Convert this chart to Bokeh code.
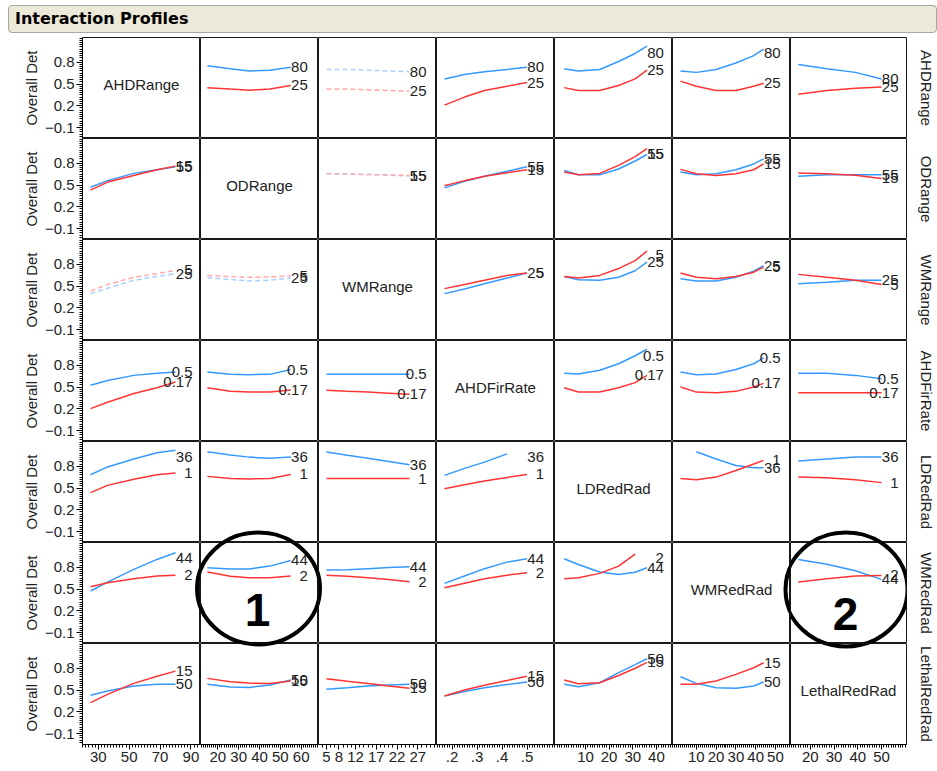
import math
from bokeh.plotting import figure
from bokeh.models import Range1d, FixedTicker, LinearAxis, Div
from bokeh.layouts import gridplot, column
from bokeh.embed import file_html
from bokeh.resources import INLINE
from bokeh.core.properties import value

NaN = float("nan")

factors = ["AHDRange", "ODRange", "WMRange", "AHDFirRate", "LDRedRad", "WMRedRad", "LethalRedRad"]
hi_levels = ["80", "55", "25", "0.5", "36", "44", "50"]
lo_levels = ["25", "15", "5", "0.17", "1", "2", "15"]

# factor values at which the profiles were read
x_AHDRange = [25, 36, 53, 68, 80]
x_ODRange = [15, 26, 35, 45, 55]
x_WMRange = [5, 10, 15, 20, 25]
x_AHDFirRate = [0.17, 0.25, 0.33, 0.42, 0.5]
x_LDRedRad = [1, 7, 16, 24, 31, 36]
x_WMRedRad = [2, 10, 20, 30, 39, 44]
x_LethalRedRad = [15, 27, 39, 50]

# bottom axis ticks
ticks_AHDRange = [30, 50, 70, 90]
ticks_ODRange = [20, 30, 40, 50, 60]
ticks_WMRange = [5, 8, 12, 17, 22, 27]
ticks_AHDFirRate = [0.2, 0.3, 0.4, 0.5]
labels_AHDFirRate = [".2", ".3", ".4", ".5"]
ticks_LDRedRad = [10, 20, 30, 40]
ticks_WMRedRad = [10, 20, 30, 40, 50]
ticks_LethalRedRad = [20, 30, 40, 50]
y_ticks = [-0.1, 0.2, 0.5, 0.8]

# Overall Det profiles: row factor at its high level (blue) and low level (red)
hi_AHDRange = {
    "ODRange": [0.75, 0.71, 0.68, 0.69, 0.73],
    "WMRange": [0.70, 0.70, 0.69, 0.68, 0.67],
    "AHDFirRate": [0.57, 0.63, 0.67, 0.70, 0.73],
    "LDRedRad": [0.71, 0.68, 0.70, 0.81, 0.92, 1.02],
    "WMRedRad": [0.68, 0.66, 0.70, 0.79, 0.89, 0.98],
    "LethalRedRad": [0.77, 0.71, 0.66, 0.57],
}
lo_AHDRange = {
    "ODRange": [0.45, 0.43, 0.415, 0.43, 0.48],
    "WMRange": [0.43, 0.43, 0.42, 0.41, 0.40],
    "AHDFirRate": [0.21, 0.32, 0.41, 0.47, 0.52],
    "LDRedRad": [0.45, 0.41, 0.41, 0.48, 0.57, 0.69],
    "WMRedRad": [0.54, 0.47, 0.41, 0.41, 0.47, 0.51],
    "LethalRedRad": [0.36, 0.41, 0.44, 0.46],
}
hi_ODRange = {
    "AHDRange": [0.47, 0.56, 0.66, 0.71, 0.75],
    "WMRange": [0.66, 0.65, 0.645, 0.635, 0.625],
    "AHDFirRate": [0.46, 0.55, 0.62, 0.69, 0.75],
    "LDRedRad": [0.70, 0.64, 0.64, 0.72, 0.83, 0.92],
    "WMRedRad": [0.68, 0.64, 0.656, 0.71, 0.79, 0.86],
    "LethalRedRad": [0.62, 0.64, 0.64, 0.64],
}
lo_ODRange = {
    "AHDRange": [0.43, 0.54, 0.63, 0.71, 0.76],
    "WMRange": [0.655, 0.65, 0.645, 0.64, 0.63],
    "AHDFirRate": [0.49, 0.56, 0.62, 0.67, 0.71],
    "LDRedRad": [0.68, 0.64, 0.66, 0.77, 0.89, 1.0],
    "WMRedRad": [0.715, 0.656, 0.63, 0.656, 0.71, 0.79],
    "LethalRedRad": [0.664, 0.656, 0.635, 0.59],
}
hi_WMRange = {
    "AHDRange": [0.395, 0.47, 0.578, 0.63, 0.67],
    "ODRange": [0.615, 0.59, 0.57, 0.58, 0.61],
    "AHDFirRate": [0.395, 0.46, 0.53, 0.61, 0.678],
    "LDRedRad": [0.63, 0.587, 0.578, 0.62, 0.71, 0.83],
    "WMRedRad": [0.60, 0.57, 0.57, 0.62, 0.705, 0.78],
    "LethalRedRad": [0.53, 0.55, 0.58, 0.58],
}
lo_WMRange = {
    "AHDRange": [0.43, 0.52, 0.62, 0.67, 0.715],
    "ODRange": [0.646, 0.63, 0.62, 0.625, 0.637],
    "AHDFirRate": [0.464, 0.52, 0.578, 0.645, 0.678],
    "LDRedRad": [0.63, 0.61, 0.646, 0.74, 0.85, 0.98],
    "WMRedRad": [0.68, 0.62, 0.60, 0.63, 0.69, 0.76],
    "LethalRedRad": [0.66, 0.62, 0.58, 0.52],
}
hi_AHDFirRate = {
    "AHDRange": [0.523, 0.59, 0.66, 0.69, 0.705],
    "ODRange": [0.705, 0.674, 0.67, 0.674, 0.74],
    "WMRange": [0.674, 0.674, 0.674, 0.674, 0.674],
    "LDRedRad": [0.69, 0.68, 0.73, 0.82, 0.93, 1.02],
    "WMRedRad": [0.705, 0.67, 0.68, 0.74, 0.82, 0.90],
    "LethalRedRad": [0.69, 0.69, 0.66, 0.615],
}
lo_AHDFirRate = {
    "AHDRange": [0.203, 0.29, 0.41, 0.49, 0.57],
    "ODRange": [0.49, 0.44, 0.43, 0.43, 0.46],
    "WMRange": [0.454, 0.44, 0.43, 0.415, 0.40],
    "LDRedRad": [0.49, 0.43, 0.43, 0.49, 0.56, 0.66],
    "WMRedRad": [0.50, 0.43, 0.42, 0.44, 0.50, 0.55],
    "LethalRedRad": [0.42, 0.42, 0.42, 0.42],
}
hi_LDRedRad = {
    "AHDRange": [0.683, 0.79, 0.90, 0.985, 1.02],
    "ODRange": [1.0, 0.955, 0.925, 0.91, 0.925],
    "WMRange": [0.995, 0.95, 0.91, 0.865, 0.82],
    "AHDFirRate": [0.674, 0.77, 0.856, 0.97, NaN],
    "WMRedRad": [NaN, 1.0, 0.90, 0.81, 0.78, 0.78],
    "LethalRedRad": [0.87, 0.90, 0.925, 0.925],
}
lo_LDRedRad = {
    "AHDRange": [0.436, 0.536, 0.62, 0.683, 0.705],
    "ODRange": [0.66, 0.63, 0.625, 0.63, 0.687],
    "WMRange": [0.63, 0.63, 0.63, 0.63, 0.63],
    "AHDFirRate": [0.49, 0.545, 0.595, 0.645, 0.687],
    "WMRedRad": [0.63, 0.615, 0.65, 0.74, 0.83, 0.88],
    "LethalRedRad": [0.65, 0.64, 0.615, 0.574],
}
hi_WMRedRad = {
    "AHDRange": [0.472, 0.595, 0.77, 0.907, 0.998],
    "ODRange": [0.793, 0.775, 0.775, 0.815, 0.893],
    "WMRange": [0.76, 0.765, 0.78, 0.795, 0.807],
    "AHDFirRate": [0.578, 0.678, 0.78, 0.87, 0.916],
    "LDRedRad": [0.916, 0.838, 0.733, 0.70, 0.73, 0.793],
    "LethalRedRad": [0.907, 0.84, 0.75, 0.633],
}
lo_WMRedRad = {
    "AHDRange": [0.532, 0.587, 0.64, 0.678, 0.69],
    "ODRange": [0.733, 0.675, 0.656, 0.656, 0.678],
    "WMRange": [0.69, 0.675, 0.656, 0.63, 0.60],
    "AHDFirRate": [0.518, 0.58, 0.64, 0.69, 0.724],
    "LDRedRad": [0.64, 0.656, 0.715, 0.815, 0.98, NaN],
    "LethalRedRad": [0.595, 0.64, 0.678, 0.687],
}
hi_LethalRedRad = {
    "AHDRange": [0.427, 0.486, 0.555, 0.578, 0.578],
    "ODRange": [0.578, 0.54, 0.535, 0.57, 0.637],
    "WMRange": [0.51, 0.53, 0.555, 0.568, 0.578],
    "AHDFirRate": [0.417, 0.48, 0.532, 0.575, 0.61],
    "LDRedRad": [0.578, 0.546, 0.60, 0.74, 0.85, 0.93],
    "WMRedRad": [0.683, 0.591, 0.532, 0.523, 0.555, 0.61],
}
lo_LethalRedRad = {
    "AHDRange": [0.327, 0.44, 0.591, 0.69, 0.76],
    "ODRange": [0.66, 0.615, 0.595, 0.59, 0.623],
    "WMRange": [0.655, 0.62, 0.591, 0.555, 0.523],
    "AHDFirRate": [0.417, 0.50, 0.564, 0.63, 0.69],
    "LDRedRad": [0.637, 0.587, 0.60, 0.70, 0.80, 0.88],
    "WMRedRad": [0.578, 0.578, 0.623, 0.715, 0.806, 0.875],
}

# non-significant interactions drawn dashed
dashed_pairs = {("AHDRange", "WMRange"), ("ODRange", "WMRange"),
                ("WMRange", "AHDRange"), ("WMRange", "ODRange")}

# ---------------------------------------------------------------- assembly
x_grid = {"AHDRange": x_AHDRange, "ODRange": x_ODRange, "WMRange": x_WMRange,
          "AHDFirRate": x_AHDFirRate, "LDRedRad": x_LDRedRad,
          "WMRedRad": x_WMRedRad, "LethalRedRad": x_LethalRedRad}
hi_data = {"AHDRange": hi_AHDRange, "ODRange": hi_ODRange, "WMRange": hi_WMRange,
           "AHDFirRate": hi_AHDFirRate, "LDRedRad": hi_LDRedRad,
           "WMRedRad": hi_WMRedRad, "LethalRedRad": hi_LethalRedRad}
lo_data = {"AHDRange": lo_AHDRange, "ODRange": lo_ODRange, "WMRange": lo_WMRange,
           "AHDFirRate": lo_AHDFirRate, "LDRedRad": lo_LDRedRad,
           "WMRedRad": lo_WMRedRad, "LethalRedRad": lo_LethalRedRad}
ticks = {"AHDRange": (ticks_AHDRange, [str(t) for t in ticks_AHDRange]),
         "ODRange": (ticks_ODRange, [str(t) for t in ticks_ODRange]),
         "WMRange": (ticks_WMRange, [str(t) for t in ticks_WMRange]),
         "AHDFirRate": (ticks_AHDFirRate, labels_AHDFirRate),
         "LDRedRad": (ticks_LDRedRad, [str(t) for t in ticks_LDRedRad]),
         "WMRedRad": (ticks_WMRedRad, [str(t) for t in ticks_WMRedRad]),
         "LethalRedRad": (ticks_LethalRedRad, [str(t) for t in ticks_LethalRedRad])}
minor_step = {"AHDRange": 2, "ODRange": 1, "WMRange": 1, "AHDFirRate": 0.01,
              "LDRedRad": 1, "WMRedRad": 1, "LethalRedRad": 1}
x_ranges = {"AHDRange": (19.8, 96.2), "ODRange": (11.7, 68.3), "WMRange": (3.07, 31.5),
            "AHDFirRate": (0.138, 0.61), "LDRedRad": (-3.1, 46.8),
            "WMRedRad": (-2.04, 57.6), "LethalRedRad": (11.7, 60.5)}
Y0, Y1 = -0.25, 1.14

FW, FH = 118, 101           # frame size of each panel
LEFT, RIGHT, BOTTOM, TOP = 82, 29, 26, 37
FONT = "Liberation Sans"
TXT = "#222222"
BLUE, RED = "#3399FF", "#FF3333"
LBLUE, LRED = "#A9D1FF", "#FFAAAA"

y_minor = [round(-0.1 + 0.03 * k, 3) for k in range(-5, 42) if Y0 < -0.1 + 0.03 * k < Y1]

n = len(factors)
figs = [[None] * n for _ in range(n)]
for r, rf in enumerate(factors):
    for c, cf in enumerate(factors):
        w = FW + (LEFT if c == 0 else 0) + (RIGHT if c == n - 1 else 0)
        h = FH + (BOTTOM if r == n - 1 else 0)
        xs, xe = x_ranges[cf]
        p = figure(width=w, height=h, x_range=Range1d(xs, xe), y_range=Range1d(Y0, Y1),
                   x_axis_location=None, y_axis_location=None, toolbar_location=None,
                   output_backend="svg", min_border=0)
        p.min_border_left = LEFT if c == 0 else 0
        p.min_border_right = RIGHT if c == n - 1 else 0
        p.min_border_bottom = BOTTOM if r == n - 1 else 0
        p.min_border_top = 0
        p.outline_line_color = "#1a1a1a"
        p.outline_line_width = 1
        p.background_fill_color = "white"
        p.border_fill_color = "white"
        p.xgrid.visible = False
        p.ygrid.visible = False

        if c == 0:
            ya = LinearAxis(ticker=FixedTicker(ticks=y_ticks, minor_ticks=y_minor),
                            axis_label="Overall Det", axis_label_standoff=2,
                            axis_label_text_font=FONT, axis_label_text_font_size="15px",
                            axis_label_text_font_style="normal", axis_label_text_color=TXT,
                            major_label_text_font=FONT, major_label_text_font_size="15px",
                            major_label_text_color=TXT, major_label_standoff=2,
                            major_tick_out=6, major_tick_in=0, minor_tick_out=3, minor_tick_in=0,
                            axis_line_color="black", major_tick_line_color="black",
                            minor_tick_line_color="black")
            p.add_layout(ya, "left")
        if r == n - 1:
            tv, tl = ticks[cf]
            st = minor_step[cf]
            k0 = math.ceil(xs / st)
            k1 = math.floor(xe / st)
            mins = [round(k * st, 4) for k in range(k0, k1 + 1)]
            xa = LinearAxis(ticker=FixedTicker(ticks=tv, minor_ticks=mins),
                            major_label_overrides={t: l for t, l in zip(tv, tl)},
                            major_label_text_font=FONT, major_label_text_font_size="15px",
                            major_label_text_color=TXT, major_label_standoff=2,
                            major_tick_out=5, major_tick_in=0, minor_tick_out=3, minor_tick_in=0,
                            axis_line_color="black", major_tick_line_color="black",
                            minor_tick_line_color="black")
            p.add_layout(xa, "below")
        if c == n - 1:
            ra = LinearAxis(ticker=FixedTicker(ticks=[], minor_ticks=[]),
                            axis_label=rf, axis_label_standoff=11,
                            axis_label_text_font=FONT, axis_label_text_font_size="15px",
                            axis_label_text_font_style="normal", axis_label_text_color=TXT,
                            axis_line_color=None, major_tick_line_color=None,
                            minor_tick_line_color=None, major_tick_out=0, minor_tick_out=0,
                            major_label_standoff=0)
            p.add_layout(ra, "right")

        if r == c:
            p.text(x=[(xs + xe) / 2], y=[0.5], text=[rf], text_font=value(FONT),
                   text_font_size=value("15px"), text_color=TXT,
                   text_align="center", text_baseline="middle")
        else:
            xv = x_grid[cf]
            hy = hi_data[rf][cf]
            ly = lo_data[rf][cf]
            dashed = (rf, cf) in dashed_pairs
            p.line(xv, hy, line_color=LBLUE if dashed else BLUE, line_width=1.5,
                   line_dash="5 3" if dashed else "solid")
            p.line(xv, ly, line_color=LRED if dashed else RED, line_width=1.5,
                   line_dash="5 3" if dashed else "solid")
            lab_y = []
            for ys in (hy, ly):
                last = ys[-1] if not math.isnan(ys[-1]) else 1.0
                lab_y.append(min(last, 0.92))
            p.text(x=[xv[-1], xv[-1]], y=lab_y, text=[hi_levels[r], lo_levels[r]],
                   x_offset=17, text_align="right", text_baseline="alphabetic",
                   text_font=value(FONT), text_font_size=value("15px"), text_color=TXT)
        figs[r][c] = p


def data_pos(c, dx, dy):
    xs, xe = x_ranges[factors[c]]
    return xs + dx / FW * (xe - xs), Y1 - dy / FH * (Y1 - Y0)


# highlight circles (pixel offsets inside host panel), drawn into neighbours too
marks = [(5, 1, 58, 46, 123, 112, "1", 57, 67), (5, 6, 56.5, 47, 123, 114, "2", 56, 71)]
for (r0, c0, dx, dy, ew, eh, lab, tdx, tdy) in marks:
    for r in range(r0 - 1, r0 + 2):
        for c in range(c0 - 1, c0 + 2):
            if 0 <= r < n and 0 <= c < n:
                ex, ey = data_pos(c, dx + (c0 - c) * FW, dy + (r0 - r) * FH)
                figs[r][c].ellipse(x=[ex], y=[ey], width=ew, height=eh,
                                   width_units="screen", height_units="screen",
                                   fill_color=None, line_color="black", line_width=4)
    tx, ty = data_pos(c0, tdx, tdy)
    figs[r0][c0].text(x=[tx], y=[ty], text=[lab], text_font=value(FONT),
                      text_font_size=value("46px"), text_font_style="bold",
                      text_color="black", text_align="center", text_baseline="middle")

grid = gridplot(figs, toolbar_location=None)

total_w = LEFT + n * FW + RIGHT
title = Div(text=('<div style="box-sizing:border-box;margin:5px 0 0 8px;width:%dpx;height:28px;'
                  'background:#ECE9D8;border:1px solid #A8A89C;border-radius:4px;'
                  'font-family:\'DejaVu Sans\',sans-serif;font-weight:bold;'
                  'font-size:16px;line-height:26px;padding-left:6px;color:#000;">'
                  'Interaction Profiles</div>') % (total_w - 8),
            width=total_w, height=TOP, margin=(0, 0, 0, 0))

layout = column(title, grid, spacing=0)
open("out.html", "w").write(file_html(layout, INLINE))
